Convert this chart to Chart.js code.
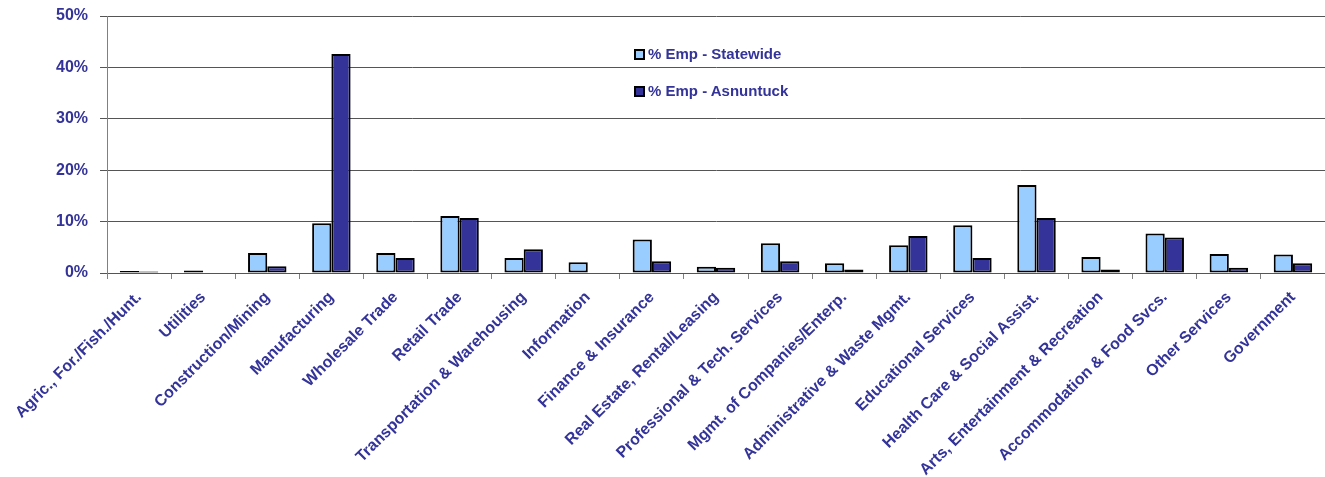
<!DOCTYPE html>
<html>
<head>
<meta charset="utf-8">
<script src="https://cdn.jsdelivr.net/npm/chart.js@4"></script>
<style>
    html, body {
        margin: 0;
        padding: 0;
        background: #ffffff;
    }

    #wrap {
        position: relative;
        width: 1325px;
        height: 477px;
    }

    .legendItem {
        position: absolute;
        left: 634px;
        font: bold 15px "Liberation Sans", Arial, sans-serif;
        color: #333399;
        white-space: nowrap;
        line-height: 16px;
    }

    .legendItem span {
        display: inline-block;
        width: 7px;
        height: 7px;
        border: 2px solid #000000;
        margin-right: 3px;
        vertical-align: -1px;
    }
</style>
</head>
<body>

<div id="wrap">
    <canvas id="empChart" width="1325" height="477"></canvas>

    <div class="legendItem" style="top: 46px;">
        <span style="background: #99ccff;"></span>% Emp - Statewide
    </div>

    <div class="legendItem" style="top: 83px;">
        <span style="background: #333399;"></span>% Emp - Asnuntuck
    </div>
</div>

<script>

const categories = [
    "Agric., For./Fish./Hunt.",
    "Utilities",
    "Construction/Mining",
    "Manufacturing",
    "Wholesale Trade",
    "Retail Trade",
    "Transportation & Warehousing",
    "Information",
    "Finance & Insurance",
    "Real Estate, Rental/Leasing",
    "Professional & Tech. Services",
    "Mgmt. of Companies/Enterp.",
    "Administrative & Waste Mgmt.",
    "Educational Services",
    "Health Care & Social Assist.",
    "Arts, Entertainment & Recreation",
    "Accommodation & Food Svcs.",
    "Other Services",
    "Government"
];

const statewideValues = [
    0.4, 0.5, 3.9, 9.7, 3.9, 11.1, 2.9, 2.1, 6.5, 1.2,
    5.8, 1.9, 5.4, 9.3, 17.1, 3.1, 7.7, 3.7, 3.6
];

const asnuntuckValues = [
    0.3, 0, 1.3, 42.6, 2.9, 10.7, 4.6, 0, 2.3, 1.0,
    2.3, 0.7, 7.2, 2.9, 10.7, 0.7, 6.9, 1.0, 1.9
];

const yTicks = [0, 10, 20, 30, 40, 50];

const labelFont = {
    family: "'Liberation Sans', Arial, sans-serif",
    weight: "bold"
};

function renderChart() {

    const ctx =
        document.getElementById(
            "empChart"
        );

    new Chart(ctx, {

        type: "bar",

        data: {

            labels: categories,

            datasets: [
                {
                    label: "% Emp - Statewide",
                    data: statewideValues,
                    backgroundColor: "#99ccff",
                    borderColor: "#000000",
                    borderWidth: 2,
                    borderSkipped: false,
                    categoryPercentage: 0.6,
                    barPercentage: 1.0
                },
                {
                    label: "% Emp - Asnuntuck",
                    data: asnuntuckValues,
                    backgroundColor: "#333399",
                    borderColor: "#000000",
                    borderWidth: 2,
                    borderSkipped: false,
                    categoryPercentage: 0.6,
                    barPercentage: 1.0
                }
            ]

        },

        options: {
            responsive: false,
            animation: false,
            devicePixelRatio: 1,

            layout: {
                padding: {
                    top: 16,
                    right: 0,
                    left: 0,
                    bottom: 0
                }
            },

            plugins: {
                legend: { display: false },
                tooltip: { enabled: false }
            },

            scales: {

                x: {
                    grid: {
                        offset: true,
                        drawOnChartArea: false,
                        drawTicks: true,
                        tickLength: 6,
                        color: "#808080"
                    },
                    border: {
                        color: "#555555",
                        width: 1
                    },
                    ticks: {
                        autoSkip: false,
                        maxRotation: 45,
                        minRotation: 45,
                        color: "#333399",
                        padding: 9,
                        font: { ...labelFont, size: 16 }
                    },
                    afterFit: scale => {
                        scale.height = 204;
                        scale.paddingLeft = 0;
                        scale.paddingRight = 0;
                    }
                },

                y: {
                    min: 0,
                    max: 50,
                    afterBuildTicks: scale => {
                        scale.ticks = yTicks.map(
                            v => ({ value: v })
                        );
                    },
                    grid: {
                        color: "#555555",
                        lineWidth: 1,
                        drawTicks: true,
                        tickLength: 7
                    },
                    border: {
                        color: "#808080",
                        width: 1
                    },
                    ticks: {
                        color: "#333399",
                        padding: 12,
                        font: { ...labelFont, size: 16 },
                        callback: value => value + "%"
                    },
                    afterFit: scale => {
                        scale.width = 107;
                        scale.paddingTop = 0;
                        scale.paddingBottom = 0;
                    }
                }

            }
        }

    });

}

renderChart();

</script>
</body>
</html>
